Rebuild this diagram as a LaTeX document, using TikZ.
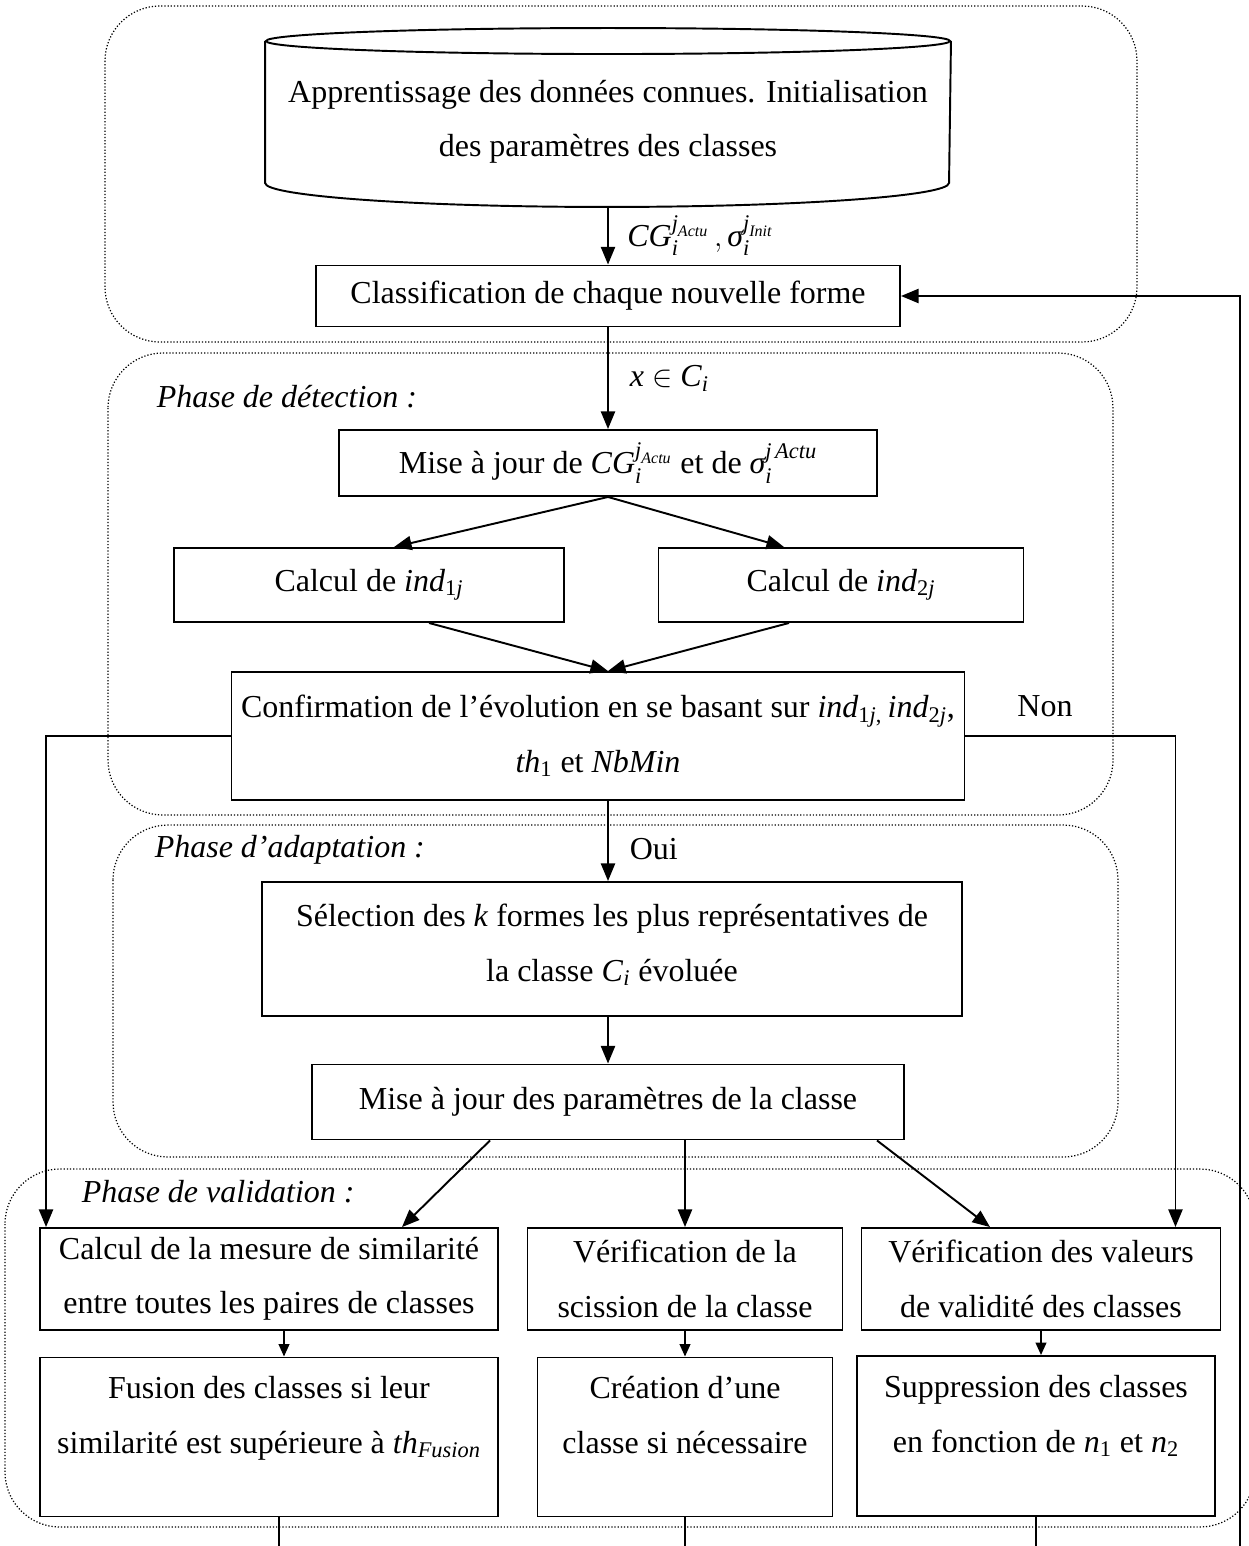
\documentclass[tikz,border=0pt]{standalone}
\usepackage{fontspec}
\setmainfont{Liberation Serif}
\usepackage{amsmath}
\usetikzlibrary{positioning}
\usetikzlibrary{arrows.meta}
\newcommand{\itx}[1]{\textit{#1}}
\tikzset{
    box/.style = {rectangle, draw, align=center, inner sep=2pt},
    zone/.style = {arrows=-, draw, line width=0.7pt, dash pattern=on 0.7pt off 1.1pt, rounded corners=1.1cm},
    phase/.style = {anchor=west, font=\fontsize{18.2}{31}\selectfont\itshape},
    small arrow/.style = {-{Triangle[length=7pt,width=6pt]}}}

\begin{document}
\begin{tikzpicture}[-{Triangle[length=10pt,width=8pt]}, node distance=2cm and 2cm, on grid,
    line width=1.1pt, font=\fontsize{18.2}{31}\selectfont
    ]
    \useasboundingbox (0,0) rectangle (24.98,-30.92);
    % zones
    \draw[zone] (2.10,-0.12) rectangle (22.74,-6.84);
    \draw[zone] (2.16,-7.06) rectangle (22.26,-16.30);
    \draw[zone] (2.26,-16.50) rectangle (22.36,-23.14);
    \draw[zone] (0.10,-23.38) rectangle (25.10,-30.54);
    \node[phase] (pdet) at (3.00,-7.94) {Phase de détection :};
    \node[phase] (padapt) at (2.96,-17.00) {Phase d'adaptation :};
    \node[phase] (pvalid) at (1.50,-23.84) {Phase de validation :};
    % boxes
    \node[box, minimum width=11.68cm, minimum height=1.22cm] (cls) at (12.16,-5.92) {Classification de chaque nouvelle forme};
    \node[align=center, minimum width=13.68cm, minimum height=3.2cm] (appr) [above=3.48cm of cls] {Apprentissage des données connues. Initialisation\\des paramètres des classes};
    \node[box, minimum width=10.76cm, minimum height=1.32cm] (mise) [below=3.34cm of cls] {Mise à jour de $\itx{CG}_{\itx{i}}^{\itx{j}_{\itx{Actu}}}$ et de $\itx{σ}_{\itx{i}}^{\itx{j}\,\itx{Actu}}$};
    \node[box, minimum width=7.8cm, minimum height=1.48cm] (ind1) [below left=2.44cm and 4.78cm of mise] {Calcul de \itx{ind}\textsubscript{1\itx{j}}};
    \node[box, minimum width=7.3cm, minimum height=1.48cm] (ind2) [below right=2.44cm and 4.66cm of mise] {Calcul de \itx{ind}\textsubscript{2\itx{j}}};
    \node[box, minimum width=14.66cm, minimum height=2.56cm] (conf) [below left=5.46cm and 0.2cm of mise] {Confirmation de l’évolution en se basant sur \itx{ind}\textsubscript{1\itx{j},}\,\itx{ind}\textsubscript{2\itx{j}},\\\itx{th}\textsubscript{1} et \itx{NbMin}};
    \node[box, minimum width=14cm, minimum height=2.68cm] (sel) [below right=4.26cm and 0.28cm of conf] {Sélection des \itx{k} formes les plus représentatives de\\la classe \itx{C}\textsubscript{\itx{i}} évoluée\\[-24pt]\mbox{}};
    \node[box, minimum width=11.84cm, minimum height=1.5cm] (maj) [below left=3.06cm and 0.08cm of sel] {Mise à jour des paramètres de la classe};
    \node[box, minimum width=6.3cm, minimum height=2.04cm] (verif) [below right=3.54cm and 1.54cm of maj] {Vérification de la\\scission de la classe};
    \node[box, minimum width=9.16cm, minimum height=2.04cm] (calc) [left=8.32cm of verif] {Calcul de la mesure de similarité\\entre toutes les paires de classes};
    \node[box, minimum width=7.18cm, minimum height=2.04cm] (valid) [right=7.12cm of verif] {Vérification des valeurs\\de validité des classes};
    \node[box, minimum width=9.16cm, minimum height=3.18cm] (fus) [below=3.16cm of calc] {Fusion des classes si leur\\similarité est supérieure à \itx{th}\textsubscript{\itx{Fusion}}\\[-6pt]\mbox{}};
    \node[box, minimum width=5.9cm, minimum height=3.18cm] (crea) [below=3.16cm of verif] {Création d'une\\classe si nécessaire\\[-6pt]\mbox{}};
    \node[box, minimum width=7.16cm, minimum height=3.2cm] (supp) [below left=3.14cm and 0.1cm of valid] {Suppression des classes\\en fonction de \itx{n}\textsubscript{1} et \itx{n}\textsubscript{2}\\[-6pt]\mbox{}};
    \node (non) at (20.90,-14.12) {Non};
    % cylinder
    \draw[-] (appr.north west) -- ([yshift=0.4cm]appr.south west) arc[start angle=180, end angle=360, x radius=6.84cm, y radius=0.48cm] -- (appr.north east);
    \draw[-] (appr.north) ellipse [x radius=6.84cm, y radius=0.26cm];
    \coordinate (cylbot) at ([yshift=-0.08cm]appr.south);
    \coordinate (feed) at (24.80,-30.92);
    \coordinate (fusend) at (fus.south |- feed);
    \coordinate (creaend) at (crea.south |- feed);
    \coordinate (suppend) at (supp.south |- feed);
    % arrows
    \draw (cylbot) -- node[right=0.25cm] {$\itx{CG}_{\itx{i}}^{\itx{j}_{\itx{Actu}}}\,,\itx{σ}_{\itx{i}}^{\itx{j}_{\itx{Init}}}$} (cls);
    \draw (cls) -- node[right=0.3cm] {\itx{x} $\in$ \itx{C}\textsubscript{\itx{i}}} (mise);
    \draw (mise.south) -- ([xshift=0.5cm]ind1.north);
    \draw (mise.south) -- ([xshift=-1.14cm]ind2.north);
    \draw ([xshift=1.2cm]ind1.south) -- (conf.north -| mise);
    \draw ([xshift=-1.04cm]ind2.south) -- (conf.north -| mise);
    \draw (conf.west) -| ([xshift=0.14cm]calc.north west);
    \draw (conf.east) -| ([xshift=-0.92cm]valid.north east);
    \draw (conf.south -| maj) -- node[right=0.3cm, pos=0.6] {Oui} (sel.north -| maj);
    \draw (sel.south -| maj) -- (maj);
    \draw ([xshift=-2.36cm]maj.south) -- ([xshift=2.66cm]calc.north);
    \draw (maj.south -| verif) -- (verif);
    \draw ([xshift=5.38cm]maj.south) -- ([xshift=-1.02cm]valid.north);
    \draw[small arrow] ([xshift=0.3cm]calc.south) -- ([xshift=0.3cm]fus.north);
    \draw[small arrow] (verif) -- (crea);
    \draw[small arrow] (valid) -- (valid |- supp.north);
    \draw[-, line width=0.8pt] ([xshift=0.2cm]fus.south) -- ([xshift=0.2cm]fusend);
    \draw[-, line width=0.8pt] (crea) -- (creaend);
    \draw[-, line width=0.8pt] (supp) -- (suppend);
    \draw (feed) |- (cls.east);
\end{tikzpicture}
\end{document}
